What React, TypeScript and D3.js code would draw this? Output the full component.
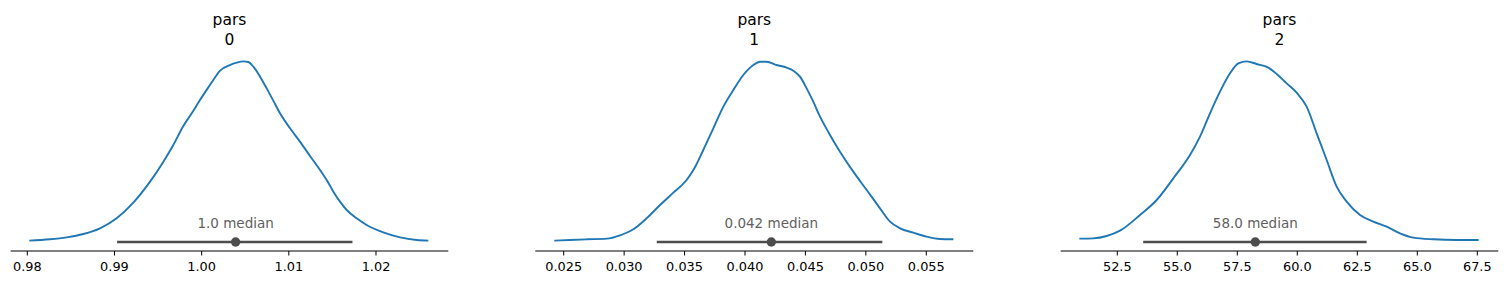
import React from "react";
import * as d3 from "d3";

// ---- data ----
const titles = ["pars\n0", "pars\n1", "pars\n2"];

const kde0: [number, number][] = [
  [0.98023, 0.0074], [0.9826, 0.0148], [0.98452, 0.0259], [0.98643, 0.0444], [0.98834, 0.0758],
  [0.99025, 0.1313], [0.99216, 0.2181], [0.99408, 0.3346], [0.99561, 0.4455], [0.99675, 0.538],
  [0.9979, 0.6434], [0.99886, 0.7136], [0.99981, 0.7876], [1.00077, 0.8578], [1.00134, 0.8985],
  [1.00211, 0.9502], [1.00325, 0.9817], [1.00402, 0.9946], [1.00478, 1.002], [1.00536, 0.9983],
  [1.00593, 0.9724], [1.0067, 0.917], [1.00746, 0.8523], [1.00822, 0.7839], [1.00899, 0.7136],
  [1.01014, 0.6305], [1.01128, 0.5565], [1.01243, 0.477], [1.01358, 0.3993], [1.01434, 0.3439],
  [1.01511, 0.2792], [1.01587, 0.2237], [1.01664, 0.1775], [1.01778, 0.1313], [1.01893, 0.0943],
  [1.02084, 0.0536], [1.02276, 0.0259], [1.02467, 0.0111], [1.02601, 0.0074],
];

const kde1: [number, number][] = [
  [0.02422, 0.0074], [0.02552, 0.0111], [0.0269, 0.0148], [0.02856, 0.0185], [0.02966, 0.037],
  [0.03076, 0.0703], [0.03186, 0.1313], [0.03297, 0.2052], [0.03407, 0.2736], [0.03517, 0.3439],
  [0.03573, 0.3993], [0.03655, 0.5103], [0.03738, 0.6305], [0.03821, 0.7506], [0.03904, 0.843],
  [0.03986, 0.9262], [0.04069, 0.9817], [0.04124, 1.0002], [0.04179, 1.0002], [0.04262, 0.9817],
  [0.04345, 0.9669], [0.044, 0.9502], [0.04455, 0.917], [0.0451, 0.8523], [0.04565, 0.7782],
  [0.04621, 0.695], [0.04703, 0.5935], [0.04786, 0.501], [0.04896, 0.3901], [0.05007, 0.2884],
  [0.05117, 0.1867], [0.052, 0.1128], [0.05283, 0.0758], [0.05393, 0.0518], [0.05503, 0.0296],
  [0.05614, 0.0166], [0.05724, 0.0148],
];

const kde2: [number, number][] = [
  [50.918, 0.0185], [51.501, 0.0203], [52.057, 0.0333], [52.613, 0.0628], [53.446, 0.1498],
  [54.14, 0.2329], [54.835, 0.3531], [55.529, 0.4825], [55.946, 0.5842], [56.363, 0.7136],
  [56.779, 0.8338], [57.196, 0.9355], [57.543, 0.9909], [57.89, 1.002], [58.307, 0.9872],
  [58.793, 0.9669], [59.14, 0.9318], [59.557, 0.88], [59.974, 0.8282], [60.39, 0.7506],
  [60.807, 0.6027], [61.224, 0.4548], [61.64, 0.3069], [62.057, 0.2237], [62.613, 0.1498],
  [63.168, 0.1128], [63.724, 0.085], [64.279, 0.0481], [64.835, 0.024], [65.668, 0.0148],
  [66.64, 0.0111], [67.557, 0.0111],
];

const hdiLow = [0.9903, 0.0327, 53.58];
const hdiHigh = [1.0173, 0.05136, 62.89];
const medians = [1.0039, 0.04218, 58.25];
const medianLabels = ["1.0 median", "0.042 median", "58.0 median"];

const ticks0 = [0.98, 0.99, 1.0, 1.01, 1.02];
const ticks1 = [0.025, 0.03, 0.035, 0.04, 0.045, 0.05, 0.055];
const ticks2 = [52.5, 55.0, 57.5, 60.0, 62.5, 65.0, 67.5];
const tickLabels0 = ["0.98", "0.99", "1.00", "1.01", "1.02"];
const tickLabels1 = ["0.025", "0.030", "0.035", "0.040", "0.045", "0.050", "0.055"];
const tickLabels2 = ["52.5", "55.0", "57.5", "60.0", "62.5", "65.0", "67.5"];

const xDomains: [number, number][] = [
  [0.978096, 1.028294],
  [0.02265, 0.05889],
  [50.142, 68.375],
];

// ---- layout ----
const W = 1508;
const H = 284;
const axesX: [number, number][] = [
  [10.7, 448.3],
  [535.3, 973.3],
  [1060.7, 1498.3],
];
const axisY = 251;
const FONT = "DejaVu Sans, sans-serif";

const kdes = [kde0, kde1, kde2];
const tickSets = [ticks0, ticks1, ticks2];
const tickLabelSets = [tickLabels0, tickLabels1, tickLabels2];

export default function App() {
  const y = d3.scaleLinear().domain([-0.05, 1.05]).range([axisY, 52.7]);
  return (
    <svg
      width={W}
      height={H}
      style={{ position: "absolute", left: 0, top: 0, background: "#fff" }}
      fontFamily={FONT}
    >
      {kdes.map((kde, i) => {
        const x = d3.scaleLinear().domain(xDomains[i]).range(axesX[i]);
        const line = d3
          .line<[number, number]>()
          .x((d) => x(d[0]))
          .y((d) => y(d[1]))
          .curve(d3.curveMonotoneX);
        const cx = (axesX[i][0] + axesX[i][1]) / 2;
        const [t1, t2] = titles[i].split("\n");
        return (
          <g key={i}>
            <text x={cx} y={25} textAnchor="middle" fontSize={15.5} fill="#000">
              {t1}
            </text>
            <text x={cx} y={45} textAnchor="middle" fontSize={15.5} fill="#000">
              {t2}
            </text>
            <path d={line(kde) || ""} fill="none" stroke="#1f77b4" strokeWidth={1.9} />
            <line
              x1={x(hdiLow[i])}
              x2={x(hdiHigh[i])}
              y1={y(0)}
              y2={y(0)}
              stroke="#4d4d4d"
              strokeWidth={2.6}
            />
            <circle cx={x(medians[i])} cy={y(0)} r={4.7} fill="#4d4d4d" />
            <text
              x={x(medians[i])}
              y={228}
              textAnchor="middle"
              fontSize={13.5}
              fill="#5f5f5f"
            >
              {medianLabels[i]}
            </text>
            <line
              x1={axesX[i][0]}
              x2={axesX[i][1]}
              y1={axisY}
              y2={axisY}
              stroke="#000"
              strokeWidth={1}
            />
            {tickSets[i].map((t, j) => (
              <g key={j}>
                <line x1={x(t)} x2={x(t)} y1={axisY} y2={axisY + 4.5} stroke="#000" strokeWidth={1} />
                <text x={x(t)} y={271} textAnchor="middle" fontSize={12.9} fill="#000">
                  {tickLabelSets[i][j]}
                </text>
              </g>
            ))}
          </g>
        );
      })}
    </svg>
  );
}
